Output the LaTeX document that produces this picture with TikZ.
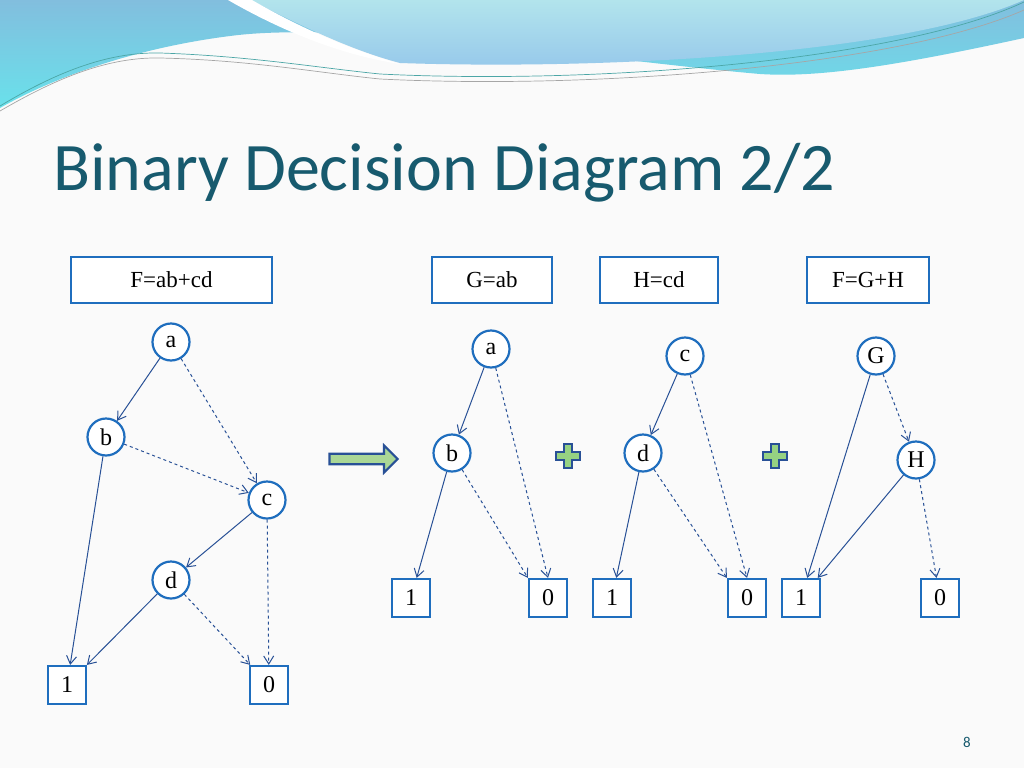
\documentclass[tikz,border=0pt]{standalone}
\usepackage{fontspec}
\newfontfamily\titlefont{Carlito}
\newfontfamily\nodefont{Liberation Serif}
\usetikzlibrary{arrows.meta,shapes.arrows}
\definecolor{nblue}{RGB}{31,110,190}
\definecolor{lblue}{RGB}{40,80,150}
\definecolor{tcol}{RGB}{23,90,110}
\definecolor{wtop}{RGB}{130,190,222}
\definecolor{wbot}{RGB}{105,225,235}
\definecolor{ltop}{RGB}{178,228,236}
\definecolor{lbot}{RGB}{150,200,235}
\tikzset{
 vnode/.style={circle,draw=nblue,line width=2.2pt,fill=white,minimum size=37pt,inner sep=0pt,font=\nodefont\fontsize{24}{24}\selectfont},
 tnode/.style={rectangle,draw=nblue,line width=2.2pt,fill=white,minimum size=38pt,inner sep=0pt,font=\nodefont\fontsize{24}{24}\selectfont},
 lbox/.style={rectangle,draw=nblue,line width=2.2pt,fill=white,minimum height=46pt,inner sep=0pt,font=\nodefont\fontsize{23}{23}\selectfont},
 hi/.style={draw=lblue,line width=1pt,-{Straight Barb[length=8pt,width=10pt]}},
 lo/.style={hi,dashed},
 plusc/.style={fill={rgb,255:red,150;green,210;blue,130},draw=lblue,line width=2.2pt}
}
\begin{document}
\begin{tikzpicture}[x=1pt,y=-1pt]
\useasboundingbox (0,0) rectangle (1024,768);
\fill[white!96!gray] (0,0) rectangle (1024,768);
% waves
\shade[top color=wtop,bottom color=wbot] (0,0) -- (1024,0) -- (1024,38) .. controls (900,65) and (820,78) .. (760,74) .. controls (600,60) and (350,20) .. (230,36) .. controls (120,50) and (40,85) .. (0,108) -- cycle;
\shade[top color=ltop,bottom color=lbot] (250,0) .. controls (300,25) and (350,50) .. (400,63) .. controls (600,70) and (900,55) .. (1024,0) -- cycle;
\fill[white] (228,0) .. controls (280,30) and (340,55) .. (400,64) .. controls (345,48) and (295,25) .. (252,0) -- cycle;
\draw[teal!70,line width=0.7pt] (0,106) .. controls (60,70) and (110,52) .. (160,53) .. controls (250,56) and (320,68) .. (380,74) .. controls (600,85) and (900,60) .. (1024,2);
\draw[gray!70,line width=0.7pt] (0,111) .. controls (60,76) and (110,57) .. (160,58) .. controls (250,60) and (320,73) .. (380,79) .. controls (600,90) and (900,65) .. (1024,10);
% title
\node[anchor=base west,inner sep=0pt,text=tcol,font=\titlefont\fontsize{68}{68}\selectfont] (title) at (53,190) {Binary Decision Diagram 2/2};
\node[anchor=center,font=\titlefont\fontsize{15}{15}\selectfont,text=tcol] (pg) at (967,742) {8};
% left diagram
\node[lbox,minimum width=201pt] (lF) at (171.5,280) {F=ab+cd};
\node[vnode] (la) at (171,342) {a};
\node[vnode] (lb) at (106,437) {b};
\node[vnode] (lc) at (267,500) {c};
\node[vnode] (ld) at (171,580) {d};
\node[tnode] (l1) at (67,685) {1};
\node[tnode] (l0) at (269,685) {0};
\draw[hi] (la) -- (lb);
\draw[lo] (la) -- (lc);
\draw[hi] (lb) -- (l1);
\draw[lo] (lb) -- (lc);
\draw[hi] (lc) -- (ld);
\draw[lo] (lc) -- (l0);
\draw[hi] (ld) -- (l1);
\draw[lo] (ld) -- (l0);
% arrow
\node[single arrow,draw=lblue,line width=2.2pt,fill={rgb,255:red,170;green,215;blue,150},minimum height=68pt,minimum width=27pt,single arrow head extend=5pt,inner sep=2pt] (arr) at (361,459) {};
% G
\node[lbox,minimum width=120pt] (gF) at (492,280) {G=ab};
\node[vnode] (ga) at (491,349) {a};
\node[vnode] (gb) at (452,453) {b};
\node[tnode] (g1) at (411,598) {1};
\node[tnode] (g0) at (548,598) {0};
\draw[hi] (ga) -- (gb);
\draw[lo] (ga) -- (g0.north);
\draw[hi] (gb) -- (g1);
\draw[lo] (gb) -- (g0.north west);
% H
\node[lbox,minimum width=118pt] (hF) at (659,280) {H=cd};
\node[vnode] (hc) at (685,356) {c};
\node[vnode] (hd) at (643,453) {d};
\node[tnode] (h1) at (612,598) {1};
\node[tnode] (h0) at (747,598) {0};
\draw[hi] (hc) -- (hd);
\draw[lo] (hc) -- (h0.north);
\draw[hi] (hd) -- (h1);
\draw[lo] (hd) -- (h0.north west);
% F=G+H
\node[lbox,minimum width=122pt] (fF) at (868,280) {F=G+H};
\node[vnode] (fG) at (876,356) {G};
\node[vnode] (fH) at (916,460) {H};
\node[tnode] (f1) at (801,598) {1};
\node[tnode] (f0) at (940,598) {0};
\draw[hi] (fG) -- (f1);
\draw[lo] (fG) -- (fH);
\draw[hi] (fH) -- (f1);
\draw[lo] (fH) -- (f0);
% plus signs
\foreach \px/\nm in {568/p1,775/p2}{
 \coordinate (\nm) at (\px,456);
 \draw[plusc] ([shift={(-4,-12)}]\nm) -- ++(8,0) -- ++(0,8) -- ++(8,0) -- ++(0,8) -- ++(-8,0) -- ++(0,8) -- ++(-8,0) -- ++(0,-8) -- ++(-8,0) -- ++(0,-8) -- ++(8,0) -- cycle;
}
\end{tikzpicture}
\end{document}
